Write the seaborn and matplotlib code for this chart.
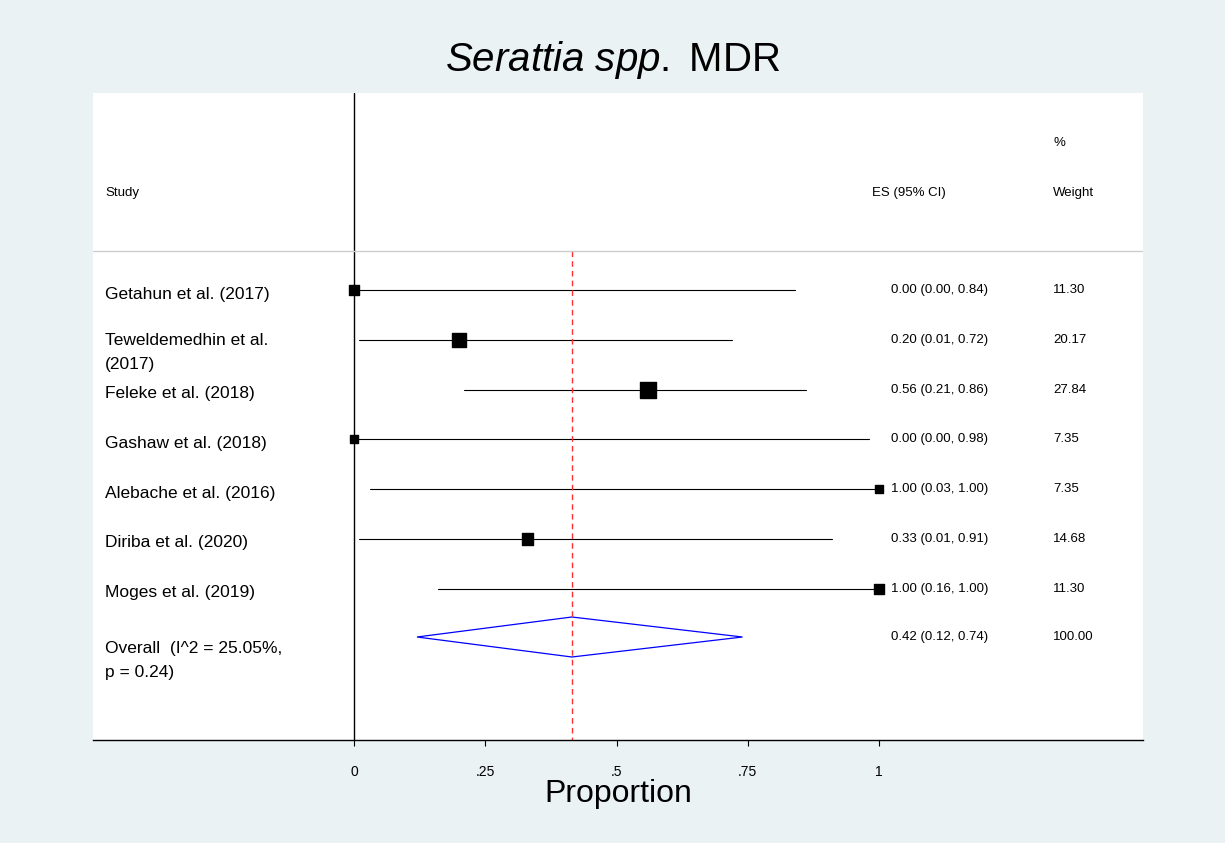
import numpy as np
import pandas as pd
import matplotlib.pyplot as plt
import seaborn as sns

# forest plot data
studies = ["Getahun et al. (2017)", "Teweldemedhin et al.\n(2017)", "Feleke et al. (2018)",
           "Gashaw et al. (2018)", "Alebache et al. (2016)", "Diriba et al. (2020)",
           "Moges et al. (2019)"]
es = [0.00, 0.20, 0.56, 0.00, 1.00, 0.33, 1.00]
lo = [0.00, 0.01, 0.21, 0.00, 0.03, 0.01, 0.16]
hi = [0.84, 0.72, 0.86, 0.98, 1.00, 0.91, 1.00]
weights = [11.30, 20.17, 27.84, 7.35, 7.35, 14.68, 11.30]
overall = (0.415, 0.12, 0.74)
overall_text = "0.42 (0.12, 0.74)"
overall_label = "Overall  (I^2 = 25.05%,\np = 0.24)"
xticks = [0, 0.25, 0.5, 0.75, 1]
xticklabels = ["0", ".25", ".5", ".75", "1"]

sns.set_style("white")
plt.rcParams['font.family'] = ['Liberation Sans', 'DejaVu Sans']
plt.rcParams['text.color'] = 'black'
plt.rcParams['xtick.color'] = 'black'
plt.rcParams['axes.labelcolor'] = 'black'
plt.rcParams['mathtext.fontset'] = 'custom'
plt.rcParams['mathtext.rm'] = 'Liberation Sans'
plt.rcParams['mathtext.it'] = 'Liberation Sans:italic'

W, H = 1225, 843
fig = plt.figure(figsize=(W / 100, H / 100), dpi=100, facecolor="#EAF2F3")
ax = fig.add_axes([93 / W, 1 - 740 / H, (1143 - 93) / W, (740 - 93) / H])
ax.set_facecolor("white")

x0, scale = 354, 525.0
def px(x):
    return (x - x0) / scale

ax.set_xlim(px(93), px(1143))
ax.set_ylim(740, 93)

rows = [290 + 49.8 * i for i in range(len(studies))]
df = pd.DataFrame({"es": es, "y": rows, "side": [3 * np.sqrt(w) * 0.72 for w in weights]})

for l, h, y in zip(lo, hi, rows):
    ax.plot([l, h], [y, y], color="black", lw=0.8)
ax.scatter(df["es"], df["y"], s=df["side"] ** 2, marker="s", color="black", zorder=3)

# overall diamond
oy = 637
c, ol, oh = overall
ax.fill([ol, c, oh, c, ol], [oy, oy - 20, oy, oy + 20, oy], facecolor="none", edgecolor="blue", lw=0.9)
ax.plot([c, c], [251, 740], color="#ff3030", ls=(0, (4, 3)), lw=1)
ax.plot([0, 0], [93, 740], color="black", lw=1)
ax.plot([px(93), px(1143)], [251, 251], color="#cccccc", lw=1)

# texts
ax.text(px(105), 193, "Study", fontsize=9.5, va="center")
ax.text(px(872), 193, "ES (95% CI)", fontsize=9.5, va="center")
ax.text(px(1053), 193, "Weight", fontsize=9.5, va="center")
ax.text(px(1053), 143, "%", fontsize=9.5, va="center")
for s, e, l, h, w, y in zip(studies, es, lo, hi, weights, rows):
    ax.text(px(105), y + (13 if "\n" in s else 4), s, fontsize=12.5, va="center", linespacing=1.75)
    ax.text(px(891), y, f"{e:.2f} ({l:.2f}, {h:.2f})", fontsize=9.5, va="center")
    ax.text(px(1053), y, f"{w:.2f}", fontsize=9.5, va="center")
ax.text(px(105), oy + 23, overall_label, fontsize=12.5, va="center", linespacing=1.75)
ax.text(px(891), oy, overall_text, fontsize=9.5, va="center")
ax.text(px(1053), oy, "100.00", fontsize=9.5, va="center")

for sp in ["top", "left", "right"]:
    ax.spines[sp].set_visible(False)
ax.spines["bottom"].set_linewidth(1)
ax.spines["bottom"].set_color("black")
ax.set_yticks([])
ax.set_xticks(xticks)
ax.set_xticklabels(xticklabels, fontsize=10)
ax.tick_params(axis="x", length=4, color="black", pad=14, bottom=True)
ax.set_xlabel("Proportion", fontsize=23, labelpad=0)

fig.text(0.5, 1 - 60 / H, r"$\it{Serattia\ spp.}$ MDR", fontsize=29, ha="center", va="center")
fig.savefig("out.png", dpi=100, facecolor=fig.get_facecolor())
